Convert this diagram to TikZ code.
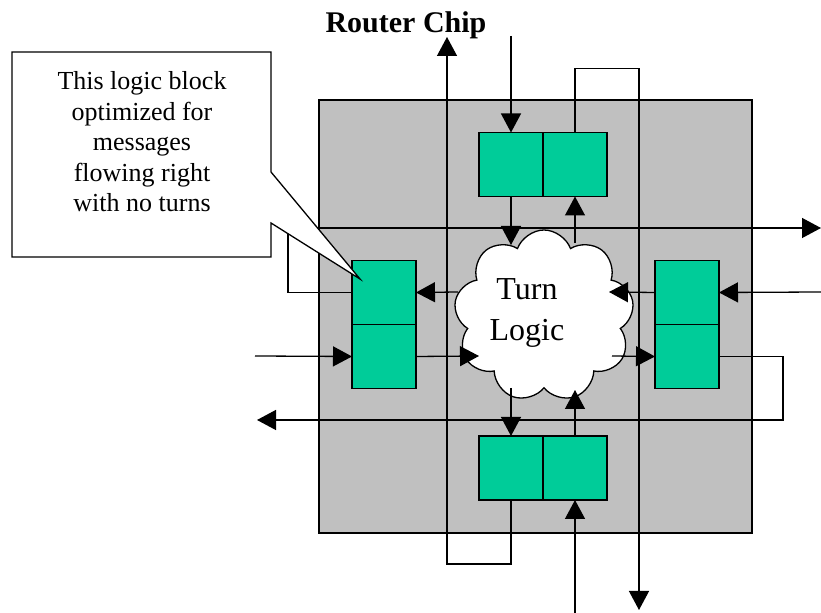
\documentclass[tikz,border=0pt]{standalone}
\usepackage{fontspec}
\setmainfont{Liberation Serif}
\usepackage{tikz}
\usetikzlibrary{arrows.meta,positioning,shapes.symbols}
\definecolor{chipgray}{HTML}{C0C0C0}
\definecolor{bufgreen}{HTML}{00CC99}

\begin{document}
\begin{tikzpicture}[
x=0.5pt,y=-0.5pt,
wire/.style={line width=0.65pt},
arr/.style={wire,-{Triangle[length=9.5pt,width=10pt]}},
half/.style={draw,line width=0.65pt,fill=bufgreen,minimum width=32pt,minimum height=32pt,inner sep=0pt,outer sep=0pt},
turnlogic/.style={cloud,cloud puffs=9,cloud puff arc=140,cloud ignores aspect,draw,line width=0.65pt,fill=white,minimum width=90pt,minimum height=86pt,inner sep=0pt}
]
\useasboundingbox (0,0) rectangle (821,613);
\node[font=\bfseries\fontsize{15}{18}\selectfont,anchor=base] (title) at (406,33) {Router Chip};
\node[draw,line width=0.65pt,fill=chipgray,minimum size=216.5pt,inner sep=0pt] (chip) at (535.5,316.5) {};

\coordinate (inN) at (511,36);
\coordinate (outN) at (447,37);
\coordinate (inS) at (575,613);
\coordinate (outS) at (639,610);
\coordinate (inW) at (255,356);
\coordinate (outW) at (257,420);
\coordinate (inE) at (821,292);
\coordinate (outE) at (821,228);

\node[half] (t1) at (511,164.5) {};
\node[half,right=0pt of t1] (t2) {};
\node[half] (l1) at (384,292.5) {};
\node[half,below=0pt of l1] (l2) {};
\node[half] (r1) at (687,292.5) {};
\node[half,below=0pt of r1] (r2) {};
\node[half] (b1) at (511,468) {};
\node[half,right=0pt of b1] (b2) {};

\draw[arr] (t2.north) -- ++(0,-64) -| (outS);
\draw[arr] (l1.west) -- ++(-64,0) |- (outE);
\draw[arr] (r2.east) -- ++(64,0) |- (outW);
\draw[arr] (b1.south) -- ++(0,64) -| (outN);
\draw[arr] (inN) -- (t1.north);
\draw[arr] (inS) -- (b2.south);
\draw[arr] (inW) -- (l2.west);
\draw[arr] (inE) -- (r1.east);

\node[turnlogic] (turn) at (544,316) {};
\node[align=center,font=\fontsize{16}{20.5}\selectfont] (turntext) at (527,313) {Turn\\Logic};
\coordinate (c1) at (511,245);
\coordinate (c2) at (575,243);
\coordinate (c3) at (609,292);
\coordinate (c4) at (612,356);
\coordinate (c5) at (575,390);
\coordinate (c6) at (511,388);
\coordinate (c7) at (458,292);
\coordinate (c8) at (479,356);
\draw[arr] (t1.south) -- (c1);
\draw[arr] (c2) -- (t2.south);
\draw[arr] (r1.west) -- (c3);
\draw[arr] (c4) -- (r2.west);
\draw[arr] (b2.north) -- (c5);
\draw[arr] (c6) -- (b1.north);
\draw[arr] (c7) -- (l1.east);
\draw[arr] (l2.east) -- (c8);

\draw[wire,fill=white] (12,52) -- (271,52) -- (271,172) -- (360,279) -- (271,223) -- (271,257) -- (12,257) -- cycle;
\node[align=center,font=\fontsize{13}{15.25}\selectfont] (note) at (142,142) {This logic block\\optimized for\\messages\\flowing right\\with no turns};
\end{tikzpicture}
\end{document}
